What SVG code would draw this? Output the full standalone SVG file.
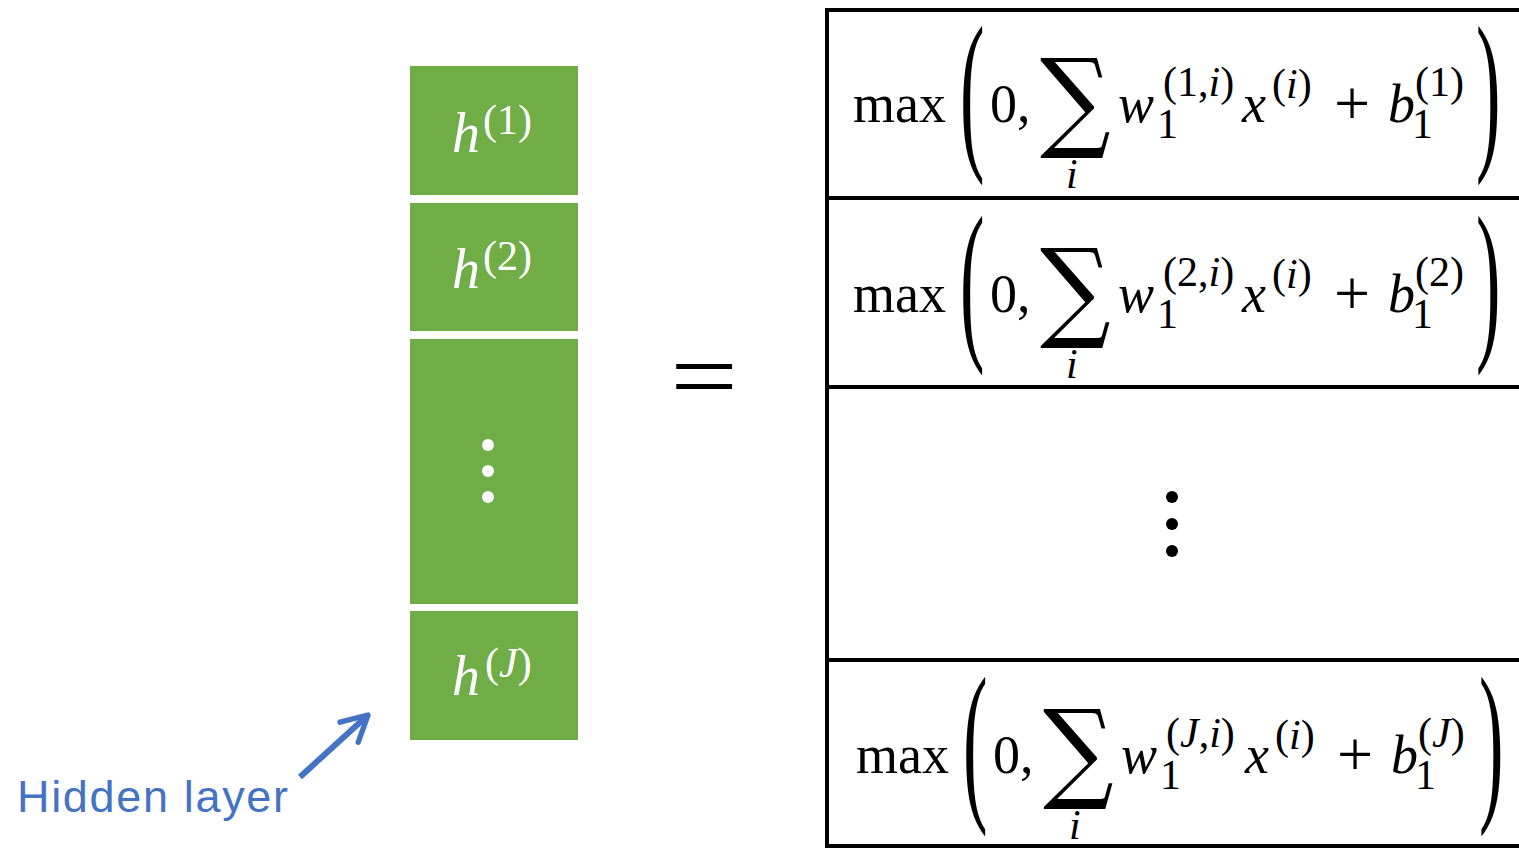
<svg xmlns="http://www.w3.org/2000/svg" width="1519" height="848" viewBox="0 0 1519 848">
<defs>
<style>
.blk{fill:#70AD47}
.ht{fill:#fff;font-family:"Liberation Serif",serif}
.m{font-family:"Liberation Serif",serif;fill:#000;font-size:54px}
.it{font-style:italic}
.sup{font-size:42px}
.plus{font-size:64px}
.par{font-family:"Liberation Serif",serif;font-size:175px;fill:#000}
.sum{font-family:"DejaVu Serif",serif;font-size:110px;fill:#000}
.tl{stroke:#000;stroke-width:4;fill:none}
.dot{fill:#000}
.wdot{fill:#fff}
</style>
<marker id="ah" viewBox="0 0 12 12" refX="10" refY="6" markerWidth="6" markerHeight="6" orient="auto" markerUnits="strokeWidth">
<path d="M1.5,1.5 L10,6 L1.5,10.5" fill="none" stroke="#4472C4" stroke-width="1.8" stroke-linecap="round" stroke-linejoin="round"/>
</marker>
<g id="row1">
<text class="m" x="853" y="122">max</text>
<text class="par" transform="translate(960,148) scale(0.42,1)">(</text>
<text class="m" x="990" y="122">0,</text>
<text class="sum" transform="translate(1040,137) scale(0.9,1)">∑</text>
<text class="m sup it" x="1066" y="188">i</text>
<text class="m it" x="1118" y="122">w</text>
<text class="m sup" x="1157" y="138">1</text>
<text class="m" x="1242" y="122" font-style="italic">x</text>
<text class="m sup" x="1272" y="98">(<tspan font-style="italic">i</tspan>)</text>
<text class="m plus" x="1334" y="125">+</text>
<text class="m it" x="1388" y="122">b</text>
<text class="m sup" x="1412" y="138">1</text>
<text class="par" transform="translate(1476,148) scale(0.42,1)">)</text>
</g>
</defs>

<g id="hidden-layer">
<g id="h1"><rect class="blk" x="410" y="66" width="168" height="129"/><text class="ht" x="452" y="152" font-size="56" font-style="italic">h</text><text class="ht" x="483" y="134" font-size="42">(1)</text></g>
<g id="h2"><rect class="blk" x="410" y="203" width="168" height="128"/><text class="ht" x="452" y="288" font-size="56" font-style="italic">h</text><text class="ht" x="483" y="270" font-size="42">(2)</text></g>
<g id="hdots"><rect class="blk" x="410" y="339" width="168" height="265"/><circle class="wdot" cx="488" cy="445" r="6"/><circle class="wdot" cx="488" cy="471" r="6"/><circle class="wdot" cx="488" cy="497" r="6"/></g>
<g id="hJ"><rect class="blk" x="410" y="611" width="168" height="129"/><text class="ht" x="452" y="695" font-size="56" font-style="italic">h</text><text class="ht" x="485" y="677" font-size="42">(<tspan font-style="italic">J</tspan>)</text></g>
</g>

<g id="equals"><text transform="translate(704,410) scale(1.2,1)" text-anchor="middle" font-family="Liberation Serif,serif" font-size="100">=</text></g>

<g id="table">
<line class="tl" x1="825" y1="10" x2="1519" y2="10"/>
<line class="tl" x1="827" y1="8" x2="827" y2="848"/>
<line class="tl" x1="825" y1="198" x2="1519" y2="198"/>
<line class="tl" x1="825" y1="387" x2="1519" y2="387"/>
<line class="tl" x1="825" y1="660" x2="1519" y2="660"/>
<line class="tl" x1="825" y1="846" x2="1519" y2="846"/>
</g>

<g id="f1">
<use href="#row1"/>
<text class="m sup" x="1163" y="96">(1,<tspan font-style="italic">i</tspan>)</text>
<text class="m sup" x="1415" y="96">(1)</text>
</g>
<g id="f2" transform="translate(0,190)">
<use href="#row1"/>
<text class="m sup" x="1163" y="96">(2,<tspan font-style="italic">i</tspan>)</text>
<text class="m sup" x="1415" y="96">(2)</text>
</g>
<g id="fdots"><circle class="dot" cx="1172" cy="497" r="6"/><circle class="dot" cx="1172" cy="524" r="6"/><circle class="dot" cx="1172" cy="551" r="6"/></g>
<g id="fJ" transform="translate(3,651)">
<use href="#row1"/>
<text class="m sup" x="1163" y="96">(<tspan font-style="italic">J</tspan>,<tspan font-style="italic">i</tspan>)</text>
<text class="m sup" x="1415" y="96">(<tspan font-style="italic">J</tspan>)</text>
</g>

<g id="label"><text x="17" y="812" font-family="Liberation Sans,sans-serif" font-size="45" fill="#4472C4" textLength="271">Hidden layer</text></g>
<g id="connectors"><line x1="300" y1="777" x2="368" y2="715" stroke="#4472C4" stroke-width="6" marker-end="url(#ah)"/></g>
</svg>
